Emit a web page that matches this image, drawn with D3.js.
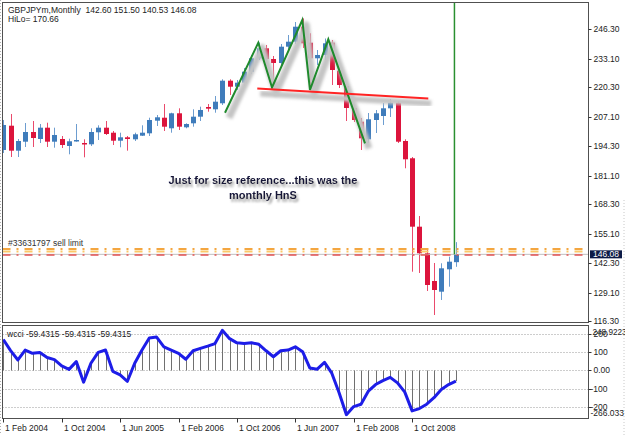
<!DOCTYPE html>
<html>
<head>
<meta charset="utf-8">
<script src="https://cdn.jsdelivr.net/npm/d3@7"></script>
<style>
  html, body { margin: 0; padding: 0; background: #fff; }
  svg { display: block; font-family: "Liberation Sans", Arial, sans-serif; }
</style>
</head>
<body>
<div id="chart"></div>
<script>
// GBPJPY monthly bars, Feb 2004 .. Apr 2009
const opens = [192.49, 203.29, 192.18, 196.18, 200.49, 197.38, 202.41, 196.18, 197.38, 194.27,
  196.36, 195.60, 195.02, 200.36, 202.41, 200.18, 196.62, 198.13, 197.24, 198.85,
  199.91, 205.52, 206.85, 202.14, 208.81, 202.58, 204.36, 207.30, 211.61, 210.59,
  213.26, 223.31, 220.64, 222.42, 227.31, 233.27, 237.72, 232.96, 231.18, 238.43,
  240.65, 247.32, 240.21, 233.27, 234.74, 240.21, 227.76, 220.95, 211.17, 205.07,
  197.24, 205.83, 207.61, 211.03, 213.53, 196.49, 188.80, 158.38, 146.55, 134.23,
  129.47, 139.43, 142.60];
const highs = [205.83, 208.50, 197.38, 204.49, 205.38, 204.05, 204.63, 202.41, 198.71, 197.51,
  204.05, 197.24, 202.14, 203.47, 205.38, 200.94, 200.18, 198.71, 200.18, 203.47,
  206.85, 208.05, 212.94, 209.07, 211.03, 204.36, 210.59, 211.75, 212.94, 216.50,
  223.93, 223.93, 223.62, 228.96, 234.74, 240.30, 239.19, 234.29, 239.63, 243.63,
  249.41, 251.00, 244.39, 236.96, 242.08, 241.41, 228.96, 221.84, 212.50, 206.72,
  208.94, 210.28, 213.39, 215.17, 214.28, 197.24, 189.37, 163.13, 148.01, 142.23,
  142.10, 145.04, 151.50];
const lows = [191.15, 189.37, 189.37, 193.82, 193.82, 195.60, 193.82, 193.51, 193.37, 190.57,
  196.18, 189.24, 194.27, 196.93, 199.16, 194.71, 193.69, 192.18, 196.49, 198.71,
  198.71, 203.16, 200.94, 200.18, 201.38, 202.14, 202.85, 205.38, 209.52, 209.07,
  212.50, 216.95, 219.17, 220.95, 226.29, 232.52, 229.85, 222.73, 229.85, 236.96,
  239.63, 237.85, 220.06, 230.29, 232.52, 221.40, 220.06, 205.38, 204.94, 192.49,
  195.60, 200.05, 203.61, 207.17, 195.60, 184.35, 138.36, 137.79, 129.78, 119.10,
  125.78, 131.69, 140.53];
const closes = [203.61, 192.18, 196.49, 200.49, 197.82, 202.41, 196.18, 199.16, 194.71, 196.36,
  196.93, 195.02, 200.49, 202.41, 199.60, 196.62, 198.13, 197.38, 199.47, 200.18,
  205.83, 207.03, 202.85, 208.81, 202.85, 204.05, 207.30, 210.28, 210.86, 213.97,
  223.31, 220.64, 222.42, 227.31, 233.27, 237.72, 232.96, 231.18, 238.43, 240.65,
  247.32, 239.94, 233.27, 234.74, 239.94, 228.07, 221.40, 211.17, 205.83, 197.69,
  206.14, 208.81, 211.03, 213.53, 196.18, 188.35, 158.38, 146.55, 132.45, 130.22,
  139.87, 142.81, 146.08];

// wcci values, one per bar
const cci = [171, 110, 58, 113, 95, 100, 72, 60, 25, 6,
  49, -65, 40, 100, 113, -5, -24, -60, 40, 113,
  180, 185, 131, 113, 95, 62, 109, 122, 135, 149,
  222, 176, 153, 149, 153, 145, 109, 76, 109, 113,
  131, 104, 13, 7, 45, -15, -124, -245, -200, -187,
  -115, -78, -56, -38, -69, -120, -224, -211, -187, -151,
  -105, -78, -59.43];

const priceTicks = [246.30, 233.10, 220.30, 207.10, 194.30, 181.10, 168.30, 155.10, 142.30, 129.10, 116.30];
const cciTicks = [200, 100, 0, -100, -200];
const cciRange = [-266.033, 248.9223];
const dateLabels = ["1 Feb 2004", "1 Oct 2004", "1 Jun 2005", "1 Feb 2006", "1 Oct 2006", "1 Jun 2007", "1 Feb 2008", "1 Oct 2008"];
const dateBars = [0, 8, 16, 24, 32, 40, 48, 56];

// hand drawn head & shoulders: [bar, price]
const zigzag = [[30.37, 209.07], [34.93, 240.21], [36.81, 220.28], [40.96, 250.30],
  [42.01, 219.17], [44.52, 241.72], [49.55, 195.46]];
const neckline = [[34.79, 219.89], [58.22, 215.38]];
const orderLevels = [148.45, 147.35];
const stopLevel = 145.75;
const bidPrice = 146.08;

const W = 625, H = 435;
const left = 2.5, right = 588.5;
const mainTop = 2.5, mainBot = 322.5;
const subTop = 325.5, subBot = 418.5;

const x = d3.scaleLinear().domain([0, 62]).range([3.3, 455.9]);
const y = d3.scaleLinear().domain([116.30, 246.30]).range([321.3, 29]);
const yc = d3.scaleLinear().domain(cciRange).range([subBot, subTop]);

const svg = d3.select("#chart").append("svg")
  .attr("width", W).attr("height", H);

const defs = svg.append("defs");
defs.append("clipPath").attr("id", "mainClip")
  .append("rect").attr("x", left + 0.5).attr("y", mainTop + 0.5)
  .attr("width", right - left - 1).attr("height", mainBot - mainTop - 1);
defs.append("clipPath").attr("id", "subClip")
  .append("rect").attr("x", left + 0.5).attr("y", subTop + 0.5)
  .attr("width", right - left - 1).attr("height", subBot - subTop - 1);
defs.append("filter").attr("id", "soft")
  .attr("x", "-20%").attr("y", "-20%").attr("width", "140%").attr("height", "140%")
  .append("feGaussianBlur").attr("stdDeviation", 1.6);

// drop shadow for the annotation text
const ds = defs.append("filter").attr("id", "textShadow")
  .attr("x", "-10%").attr("y", "-30%").attr("width", "120%").attr("height", "170%");
ds.append("feGaussianBlur").attr("in", "SourceAlpha").attr("stdDeviation", 1.1).attr("result", "b");
ds.append("feOffset").attr("in", "b").attr("dx", 2).attr("dy", 3).attr("result", "o");
ds.append("feFlood").attr("flood-color", "#9a9a9a").attr("result", "f");
ds.append("feComposite").attr("in", "f").attr("in2", "o").attr("operator", "in").attr("result", "s");
const dm = ds.append("feMerge");
dm.append("feMergeNode").attr("in", "s");
dm.append("feMergeNode").attr("in", "SourceGraphic");

svg.append("rect").attr("width", W).attr("height", H).attr("fill", "#fff");

// window frame dots at the very edges
svg.append("line").attr("x1", 0.5).attr("x2", 0.5).attr("y1", 0).attr("y2", H)
  .attr("stroke", "#b0b0b0").attr("stroke-dasharray", "1,2");
svg.append("line").attr("x1", 624).attr("x2", 624).attr("y1", 200).attr("y2", H)
  .attr("stroke", "#c8c8c8").attr("stroke-dasharray", "1,2");

const main = svg.append("g").attr("clip-path", "url(#mainClip)");
const line = d3.line().x(d => x(d[0])).y(d => y(d[1]));

// candles
const bars = d3.range(opens.length);
const up = i => closes[i] >= opens[i];
const cx = i => Math.round(x(i));

main.append("g").selectAll("line")
  .data(bars)
  .join("line")
  .attr("x1", i => cx(i) + 0.5).attr("x2", i => cx(i) + 0.5)
  .attr("y1", i => y(highs[i])).attr("y2", i => y(lows[i]))
  .attr("stroke", i => up(i) ? "#6d9dd0" : "#ea4a6c");

main.append("g").selectAll("rect")
  .data(bars)
  .join("rect")
  .attr("x", i => cx(i) - 2)
  .attr("width", 5)
  .attr("y", i => y(Math.max(opens[i], closes[i])))
  .attr("height", i => Math.max(1.5, Math.abs(y(opens[i]) - y(closes[i]))))
  .attr("fill", i => up(i) ? "#3f7cbb" : "#dc143c");

// order lines around the current price
main.selectAll(".order")
  .data(orderLevels)
  .join("line")
  .attr("x1", left).attr("x2", right)
  .attr("y1", d => y(d)).attr("y2", d => y(d))
  .attr("stroke", (d, i) => i === 0 ? "#f4a640" : "#fbc96a")
  .attr("stroke-width", 2)
  .attr("stroke-dasharray", "8,6,2,6");
main.append("line")
  .attr("x1", left).attr("x2", right)
  .attr("y1", y(bidPrice)).attr("y2", y(bidPrice))
  .attr("stroke", "#c0c0c0");
main.append("line")
  .attr("x1", left).attr("x2", right)
  .attr("y1", y(stopLevel)).attr("y2", y(stopLevel))
  .attr("stroke", "#e25050").attr("stroke-width", 1.5)
  .attr("stroke-dasharray", "8,6,2,6");

// shadows of the drawing
main.append("path").datum(zigzag)
  .attr("d", line).attr("fill", "none")
  .attr("stroke", "#c4c4c4").attr("stroke-width", 7)
  .attr("stroke-linejoin", "round")
  .attr("transform", "translate(4,5)").attr("filter", "url(#soft)");
main.append("path").datum(neckline)
  .attr("d", line).attr("fill", "none")
  .attr("stroke", "#c4c4c4").attr("stroke-width", 6)
  .attr("transform", "translate(3,5)").attr("filter", "url(#soft)");

main.append("path").datum(zigzag)
  .attr("d", line).attr("fill", "none")
  .attr("stroke", "#1f8a2c").attr("stroke-width", 2)
  .attr("stroke-linejoin", "miter");
main.append("path").datum(neckline)
  .attr("d", line).attr("fill", "none")
  .attr("stroke", "#ff2424").attr("stroke-width", 2);

// vertical marker from the top down to the last close
main.append("line")
  .attr("x1", x(61.8)).attr("x2", x(61.8))
  .attr("y1", mainTop).attr("y2", y(bidPrice))
  .attr("stroke", "#2a9030").attr("stroke-width", 1.5);

// annotation
const noteLines = ["Just for size reference...this was the", "monthly HnS"];
svg.append("g")
  .attr("font-weight", "bold").attr("font-size", 11)
  .attr("text-anchor", "middle")
  .attr("filter", "url(#textShadow)")
  .selectAll("text").data(noteLines).join("text")
  .attr("x", 263).attr("y", (d, i) => 184 + i * 15)
  .attr("fill", "#121238").text(d => d);

// labels inside the main window
svg.append("text").attr("x", 8).attr("y", 12.5).attr("font-size", 8.5)
  .attr("fill", "#222").style("white-space", "pre")
  .text("GBPJPYm,Monthly  142.60 151.50 140.53 146.08");
svg.append("text").attr("x", 8).attr("y", 21.5).attr("font-size", 8.5)
  .attr("fill", "#222").text("HiLo= 170.66");
svg.append("text").attr("x", 8).attr("y", 246).attr("font-size", 8.5)
  .attr("fill", "#333").text("#33631797 sell limit");

// frames
svg.append("rect").attr("x", left).attr("y", mainTop)
  .attr("width", right - left).attr("height", mainBot - mainTop)
  .attr("fill", "none").attr("stroke", "#505050");
svg.append("rect").attr("x", left).attr("y", subTop)
  .attr("width", right - left).attr("height", subBot - subTop)
  .attr("fill", "none").attr("stroke", "#505050");

// price axis
const pAxis = svg.append("g").attr("font-size", 8.5).attr("fill", "#222");
pAxis.selectAll("line").data(priceTicks).join("line")
  .attr("x1", right).attr("x2", right + 3)
  .attr("y1", d => Math.round(y(d)) + 0.5).attr("y2", d => Math.round(y(d)) + 0.5)
  .attr("stroke", "#333");
pAxis.selectAll("text").data(priceTicks).join("text")
  .attr("x", right + 5).attr("y", d => y(d) + 3)
  .text(d => d.toFixed(2));
svg.append("rect")
  .attr("x", 590).attr("y", y(bidPrice) - 4).attr("width", 32).attr("height", 8)
  .attr("fill", "#0c1a46");
svg.append("text").attr("x", 593).attr("y", y(bidPrice) + 3)
  .attr("font-size", 8.5).attr("fill", "#fff").text(bidPrice.toFixed(2));

// wcci window
const sub = svg.append("g").attr("clip-path", "url(#subClip)");
sub.selectAll(".grid").data(cciTicks).join("line")
  .attr("x1", left).attr("x2", right)
  .attr("y1", d => Math.round(yc(d)) + 0.5).attr("y2", d => Math.round(yc(d)) + 0.5)
  .attr("stroke", "#9a9a9a").attr("stroke-dasharray", "1,2");
sub.append("g").selectAll("line").data(bars).join("line")
  .attr("x1", i => cx(i) + 0.5).attr("x2", i => cx(i) + 0.5)
  .attr("y1", yc(0)).attr("y2", i => yc(cci[i]))
  .attr("stroke", "#707070");
sub.append("path").datum(cci)
  .attr("d", d3.line().x((d, i) => x(i)).y(d => yc(d)))
  .attr("fill", "none").attr("stroke", "#1d1de8").attr("stroke-width", 3)
  .attr("stroke-linejoin", "round");

svg.append("text").attr("x", 7).attr("y", 337).attr("font-size", 8.5)
  .attr("fill", "#222").text("wcci -59.4315 -59.4315 -59.4315");

const cAxis = svg.append("g").attr("font-size", 8.5).attr("fill", "#222");
cAxis.selectAll("line").data(cciTicks).join("line")
  .attr("x1", right).attr("x2", right + 3)
  .attr("y1", d => Math.round(yc(d)) + 0.5).attr("y2", d => Math.round(yc(d)) + 0.5)
  .attr("stroke", "#333");
cAxis.selectAll(".lvl").data(cciTicks).join("text")
  .attr("x", d => d < 0 ? right + 2 : right + 5).attr("y", d => yc(d) + 3)
  .text(d => d === 0 ? "0.00" : d);
cAxis.append("text").attr("x", right + 4).attr("y", subTop + 9)
  .attr("font-size", 8.2).text(cciRange[1].toFixed(4));
cAxis.append("text").attr("x", right + 2).attr("y", subBot - 3)
  .text(cciRange[0].toFixed(3));

// time axis
const tAxis = svg.append("g").attr("font-size", 8.5).attr("fill", "#222");
tAxis.selectAll("line").data(dateBars).join("line")
  .attr("x1", i => cx(i) + 0.5).attr("x2", i => cx(i) + 0.5)
  .attr("y1", subBot).attr("y2", subBot + 4)
  .attr("stroke", "#333");
tAxis.selectAll("text").data(dateBars).join("text")
  .attr("x", i => cx(i) + 2).attr("y", 431)
  .text((d, k) => dateLabels[k]);
</script>
</body>
</html>
